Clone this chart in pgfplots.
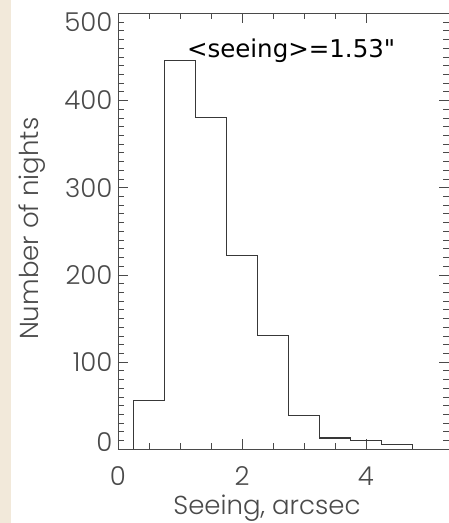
\documentclass[border=0pt]{standalone}
\usepackage{fontspec}
\setmainfont{Poppins}[UprightFont=* Light]
\newfontfamily\annfont{DejaVu Sans}
\usepackage{pgfplots}
\pgfplotsset{compat=1.18}
\definecolor{beige}{HTML}{F2E9DA}
\definecolor{axgray}{HTML}{4A4A4A}
\definecolor{histline}{HTML}{383838}

\begin{document}
\begin{tikzpicture}
% page: white sheet with a beige strip on the left
\fill[white] (-118pt,-73.7pt) rectangle (331pt,449.3pt);
\fill[beige] (-118pt,-73.7pt) rectangle (-107pt,449.3pt);
\useasboundingbox (-118pt,-73.7pt) rectangle (330.3pt,449.3pt);
\begin{axis}[
  scale only axis, width=331pt, height=436pt,
  xmin=0, xmax=5.34, ymin=0, ymax=500,
  xtick={0,2,4}, minor x tick num=3,
  ytick={0,100,200,300,400,500}, minor y tick num=9,
  yticklabels={\raisebox{7pt}[\height][\depth]{0},100,200,300,400,\raisebox{-9pt}[\height][\depth]{500}},
  tick align=inside, major tick length=10pt, minor tick length=6pt,
  axis line style={axgray, line width=0.9pt},
  every tick/.style={axgray, line width=0.8pt},
  tick label style={font=\fontsize{26}{28}\selectfont, text=axgray},
  xticklabel style={yshift=-14pt},
  yticklabel style={xshift=-2pt},
  /pgf/number format/assume math mode=true,
  xlabel={Seeing, arcsec}, ylabel={Number of nights},
  label style={font=\fontsize{26}{28}\selectfont, text=axgray},
  x label style={at={(axis description cs:0.45,-0.134)}, anchor=center},
  y label style={at={(axis description cs:-0.26,0.506)}, anchor=center, rotate=0},
]
\addplot[const plot, histline, line width=1.1pt] coordinates {
  (0.25,0) (0.25,56) (0.75,446) (1.25,381) (1.75,222) (2.25,130)
  (2.75,39) (3.25,13) (3.75,10) (4.25,6) (4.75,0)
};
\node[anchor=base west, inner sep=0pt, font=\annfont\fontsize{24.5}{26}\selectfont, text=black]
  at (axis cs:1.11,449.5) {<seeing>=1.53"};
\end{axis}
\end{tikzpicture}
\end{document}
